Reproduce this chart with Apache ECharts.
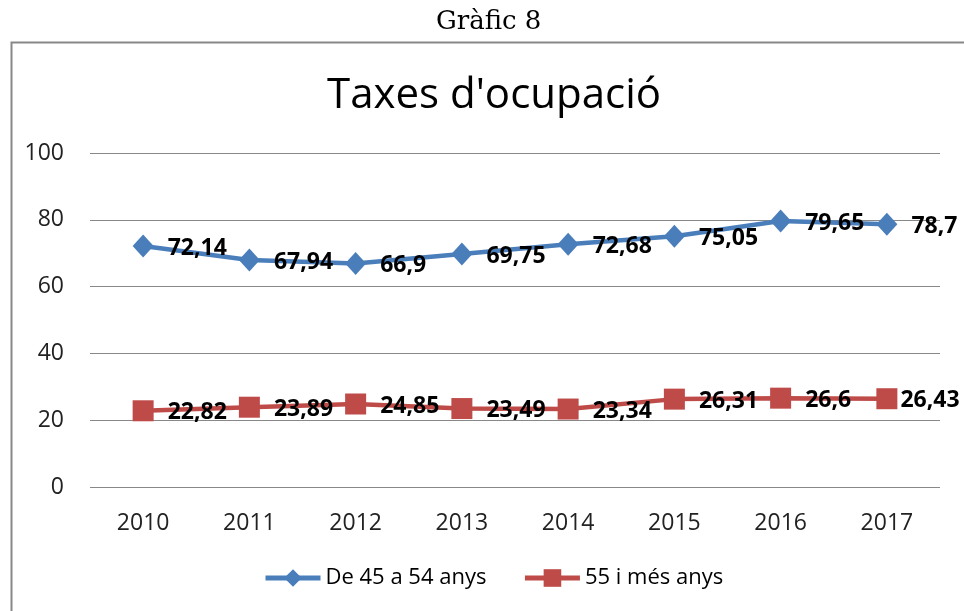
<!DOCTYPE html>
<html>
<head>
<meta charset="utf-8">
<script src="https://cdn.jsdelivr.net/npm/echarts@6/dist/echarts.min.js"></script>
<style>
  html, body { margin: 0; padding: 0; background: #fff; }
  #chart { width: 964px; height: 611px; }
</style>
</head>
<body>
<div id="chart"></div>
<script>
const years = ['2010', '2011', '2012', '2013', '2014', '2015', '2016', '2017'];
const de45a54 = [72.14, 67.94, 66.9, 69.75, 72.68, 75.05, 79.65, 78.7];
const de55mes = [22.82, 23.89, 24.85, 23.49, 23.34, 26.31, 26.6, 26.43];

const chart = echarts.init(document.getElementById('chart'));

const FONT = '"Open Sans", "Liberation Sans", sans-serif';

// etiquetes amb coma decimal
function fmtComa(p) {
    return String(p.value).replace('.', ',');
}

const labelStyle = {
    show: true,
    position: 'right',
    distance: 14,
    offset: [0, 2],
    fontFamily: FONT,
    fontWeight: 'bold',
    fontSize: 23,
    color: '#000',
    formatter: fmtComa
};

// l'última etiqueta vermella queda més enganxada al punt (com a l'original)
const dades55 = de55mes.map(function (v, i) {
    return i === de55mes.length - 1 ? { value: v, label: { distance: 3 } } : v;
});

const option = {
    animation: false,
    backgroundColor: '#fff',
    graphic: [{
        type: 'rect',
        left: 9, top: 40,
        shape: { width: 1000, height: 620 },
        style: { fill: 'none', stroke: '#888', lineWidth: 2 },
        z: -1
    }],
    title: [{
        text: 'Gràfic 8',
        left: 431,
        top: 4,
        textStyle: { fontFamily: 'DejaVu Serif', fontWeight: 'normal', fontSize: 26, color: '#000' }
    }, {
        text: "Taxes d'ocupació",
        left: 322,
        top: 70,
        textStyle: { fontFamily: FONT, fontWeight: 'normal', fontSize: 42, color: '#000' }
    }],
    legend: {
        bottom: 17,
        left: 258,
        itemWidth: 55,
        itemHeight: 22,
        itemGap: 36,
        lineStyle: { width: 5 },
        textStyle: { fontFamily: FONT, fontSize: 22, color: '#000' },
        data: ['De 45 a 54 anys', '55 i més anys']
    },
    grid: { left: 90, right: 24, top: 153, bottom: 124 },
    xAxis: {
        type: 'category',
        data: years,
        boundaryGap: true,
        axisLine: { show: false },
        axisTick: { show: false },
        axisLabel: { fontFamily: FONT, fontSize: 23, color: '#222', margin: 25 }
    },
    yAxis: {
        type: 'value',
        min: 0, max: 100, interval: 20,
        axisLine: { show: false },
        axisTick: { show: false },
        axisLabel: { fontFamily: FONT, fontSize: 23, color: '#222', margin: 26 },
        splitLine: { lineStyle: { color: '#888', width: 1 } }
    },
    series: [{
        name: 'De 45 a 54 anys',
        type: 'line',
        data: de45a54,
        symbol: 'diamond',
        symbolSize: [21, 23],
        lineStyle: { color: '#4a7ebb', width: 4.5 },
        itemStyle: { color: '#4a7ebb' },
        label: labelStyle
    }, {
        name: '55 i més anys',
        type: 'line',
        data: dades55,
        symbol: 'rect',
        symbolSize: 21,
        lineStyle: { color: '#be4b48', width: 4.5 },
        itemStyle: { color: '#be4b48' },
        label: labelStyle
    }]
};

chart.setOption(option);
window.onresize = function () { chart.resize(); };
</script>
</body>
</html>
